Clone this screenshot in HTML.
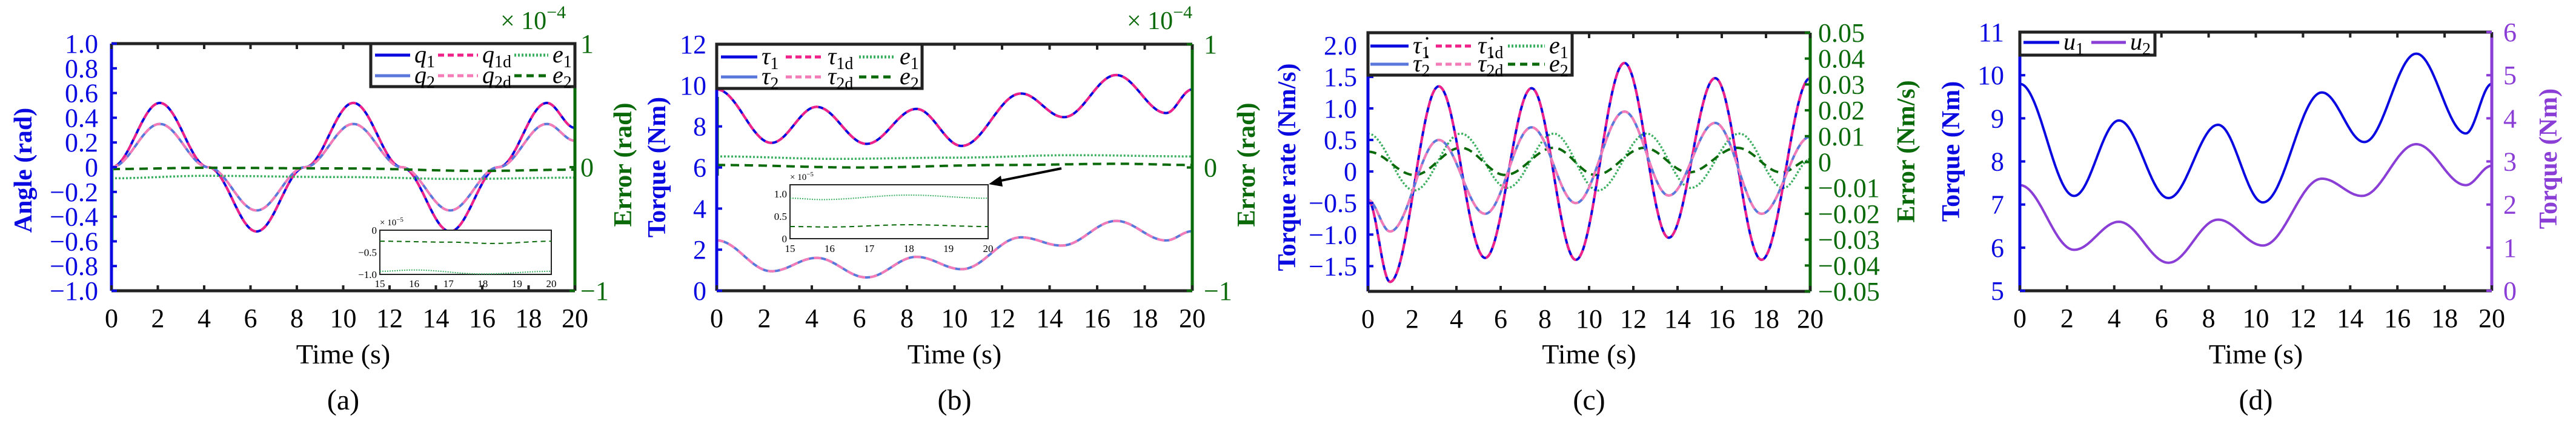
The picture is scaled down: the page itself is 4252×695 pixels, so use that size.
<!DOCTYPE html>
<html><head><meta charset="utf-8"><style>
body{margin:0;background:#fff;}
svg{display:block;}
svg text{font-family:"Liberation Serif","Times New Roman",serif;}
</style></head><body>
<svg id="s" xmlns="http://www.w3.org/2000/svg" width="4252" height="695" viewBox="0 0 4252 695"></svg>
<script>
const S=document.getElementById('s');
let out='';
const BLUE='#0a0ae0',LBLUE='#5a78dc',PINK='#ee2288',LPINK='#f37cb8',GDOT='#3cb060',GDARK='#0a6a0a',PURP='#8a3ed6',FR='#222';
const SER='style="font-family:\'Liberation Serif\',serif"';
function interp(kp,t){
  for(let i=0;i<kp.length-1;i++){const a=kp[i],b=kp[i+1];
    if(t>=a[0]&&t<=b[0]){const s=(t-a[0])/(b[0]-a[0]);return a[1]+(b[1]-a[1])*(1-Math.cos(Math.PI*s))/2;}}
  return kp[kp.length-1][1];
}
function path(fx,fy,kp,t0,t1,style){
  let d='';for(let i=0;i<=400;i++){const t=t0+(t1-t0)*i/400;d+=(i?'L':'M')+fx(t).toFixed(1)+' '+fy(interp(kp,t)).toFixed(1);}
  out+=`<path d="${d}" fill="none" ${style}/>`;
}
function txt(x,y,s,opt){out+=`<text x="${x}" y="${y}" ${SER} ${opt||''}>${s}</text>`;}
const ST={
 q1:`stroke="${BLUE}" stroke-width="4"`,
 q1d:`stroke="${PINK}" stroke-width="4" stroke-dasharray="12 8"`,
 q2:`stroke="${LBLUE}" stroke-width="4"`,
 q2d:`stroke="${LPINK}" stroke-width="4" stroke-dasharray="12 8"`,
 e1:`stroke="${GDOT}" stroke-width="3.5" stroke-dasharray="3 3"`,
 e2:`stroke="${GDARK}" stroke-width="4" stroke-dasharray="14 9"`
};
function panel(P){
  const {x0,x1,y0,y1,lmin,lmax,rmin,rmax}=P;
  const fx=t=>x0+(x1-x0)*t/20, fy=v=>y1-(y1-y0)*(v-lmin)/(lmax-lmin), fr=v=>y1-(y1-y0)*(v-rmin)/(rmax-rmin);
  P.series.forEach(s=>path(fx,s.right?fr:fy,s.kp,0,20,s.st));
  if(P.extra)P.extra(fx,fy,fr);
  out+=`<line x1="${x0}" y1="${y0}" x2="${x1}" y2="${y0}" stroke="${FR}" stroke-width="5"/>`;
  out+=`<line x1="${x0}" y1="${y1}" x2="${x1}" y2="${y1}" stroke="${FR}" stroke-width="5"/>`;
  out+=`<line x1="${x0}" y1="${y0}" x2="${x0}" y2="${y1}" stroke="${P.lc}" stroke-width="5"/>`;
  out+=`<line x1="${x1}" y1="${y0}" x2="${x1}" y2="${y1}" stroke="${P.rc}" stroke-width="5"/>`;
  for(let t=0;t<=20;t+=2){const x=fx(t);
    out+=`<line x1="${x}" y1="${y1}" x2="${x}" y2="${y1-9}" stroke="${FR}" stroke-width="4"/><line x1="${x}" y1="${y0}" x2="${x}" y2="${y0+9}" stroke="${FR}" stroke-width="4"/>`;
    txt(x,y1+60,t,'font-size="44" text-anchor="middle" fill="#000"');}
  P.lt.forEach(([v,l])=>{const y=fy(v);out+=`<line x1="${x0}" y1="${y}" x2="${x0+9}" y2="${y}" stroke="${P.lc}" stroke-width="4"/>`;
    txt(P.llx,y+15,l,`font-size="44" text-anchor="end" fill="${P.lc}"`);});
  P.rt.forEach(([v,l])=>{const y=fr(v);out+=`<line x1="${x1}" y1="${y}" x2="${x1-9}" y2="${y}" stroke="${P.rc}" stroke-width="4"/>`;
    txt(P.rlx,y+15,l,`font-size="44" fill="${P.rc}"`);});
  txt((x0+x1)/2,600,'Time (s)','font-size="46" text-anchor="middle" fill="#000"');
  txt((x0+x1)/2,676,P.cap,'font-size="48" text-anchor="middle" fill="#000"');
  out+=`<text transform="translate(${P.ylx},${P.yly}) rotate(-90)" ${SER} font-size="42" font-weight="bold" text-anchor="middle" fill="${P.lc}">${P.yl}</text>`;
  out+=`<text transform="translate(${P.yrx},${P.yry}) rotate(-90)" ${SER} font-size="42" font-weight="bold" text-anchor="middle" fill="${P.rc}">${P.yr}</text>`;
  if(P.exp)txt(P.exp[0],P.exp[1],'× 10<tspan dy="-18" font-size="30">−4</tspan>',`font-size="42" fill="${P.rc}"`);
  const L=P.leg;
  out+=`<rect x="${L.x}" y="${L.y}" width="${L.w}" height="${L.h}" fill="#fff" stroke="${FR}" stroke-width="5"/>`;
  L.items.forEach(it=>{out+=`<line x1="${it[0]}" y1="${it[2]}" x2="${it[1]}" y2="${it[2]}" ${it[3]} stroke-dasharray="${it[5]||''}"/>`;
    txt(it[1]+7,it[2]+12,it[4],'font-size="40" font-style="italic" fill="#000"');});
}
const sub=(b,s)=>`${b}<tspan font-style="normal" font-size="28" dy="8">${s}</tspan>`;
const Lst={q1:`stroke="${BLUE}" stroke-width="5"`,q1d:`stroke="${PINK}" stroke-width="5"`,q2:`stroke="${LBLUE}" stroke-width="5"`,q2d:`stroke="${LPINK}" stroke-width="5"`,e1:`stroke="${GDOT}" stroke-width="5"`,e2:`stroke="${GDARK}" stroke-width="5"`};
function leg3(r1,r2,c,names){return [
 [c[0],c[1],r1,Lst.q1,names[0]],[c[2],c[3],r1,Lst.q1d,names[1],'10 6'],[c[4],c[5],r1,Lst.e1,names[2],'3 3'],
 [c[0],c[1],r2,Lst.q2,names[3]],[c[2],c[3],r2,Lst.q2d,names[4],'10 6'],[c[4],c[5],r2,Lst.e2,names[5],'12 8']];}
const Tq=8.35;
const sinkp=A=>{const k=[];for(let t=0;t<=20.01;t+=Tq/4){const i=Math.round(t/(Tq/4))%4;k.push([t,[0,A,0,-A][i]]);}k.push([20,A*Math.sin(2*Math.PI*20/Tq)]);return k;};
panel({x0:184,x1:949,y0:72,y1:480,lmin:-1,lmax:1,rmin:-1,rmax:1,lc:BLUE,rc:GDARK,
 series:[
  {kp:sinkp(0.52),st:ST.q1},{kp:sinkp(0.52),st:ST.q1d},
  {kp:sinkp(0.35),st:ST.q2},{kp:sinkp(0.35),st:ST.q2d},
  {kp:[[0,-0.015],[4,-0.005],[10,-0.01],[16,-0.03],[20,-0.02]],st:ST.e2},
  {kp:[[0,-0.09],[4,-0.07],[10,-0.08],[15,-0.095],[20,-0.085]],st:ST.e1}],
 extra:(fx,fy)=>{out+=`<line x1="186" y1="276" x2="186" y2="400" stroke="${GDOT}" stroke-width="3"/>`;
   const X0=627,X1=910,Y0=380,Y1=453;out+=`<rect x="${X0}" y="${Y0}" width="${X1-X0}" height="${Y1-Y0}" fill="#fff" stroke="${FR}" stroke-width="2"/>`;
   const ix=t=>X0+(X1-X0)*(t-15)/5, iy=v=>Y0-(Y1-Y0)*v;
   path(ix,iy,[[15,-0.25],[17,-0.27],[18.3,-0.3],[20,-0.25]],15,20,`stroke="${GDARK}" stroke-width="2" stroke-dasharray="8 6"`);
   path(ix,iy,[[15,-0.93],[16,-0.9],[18,-0.99],[20,-0.93]],15,20,`stroke="${GDOT}" stroke-width="2" stroke-dasharray="2 2"`);
   for(let t=15;t<=20;t++)txt(ix(t),Y1+21,t,'font-size="17" text-anchor="middle"');
   [[0,'0'],[-0.5,'−0.5'],[-1,'−1.0']].forEach(([v,l])=>txt(X0-5,iy(v)+6,l,'font-size="17" text-anchor="end"'));
   txt(X0,Y0-8,'× 10<tspan dy="-6" font-size="11">−5</tspan>','font-size="15"');},
 lt:[[1,'1.0'],[0.8,'0.8'],[0.6,'0.6'],[0.4,'0.4'],[0.2,'0.2'],[0,'0'],[-0.2,'−0.2'],[-0.4,'−0.4'],[-0.6,'−0.6'],[-0.8,'−0.8'],[-1,'−1.0']],
 rt:[[1,'1'],[0,'0'],[-1,'−1']],llx:162,rlx:958,
 yl:'Angle (rad)',ylx:52,yly:281,yr:'Error (rad)',yrx:1042,yry:272,exp:[826,48],cap:'(a)',
 leg:{x:612,y:72,w:337,h:71,items:leg3(91,125,[619,677,723,789,849,905],[sub('q','1'),sub('q','1d'),sub('e','1'),sub('q','2'),sub('q','2d'),sub('e','2')])}
});
const U1=[[0,9.8],[2.3,7.2],[4.2,8.95],[6.3,7.15],[8.4,8.85],[10.3,7.05],[12.8,9.6],[14.6,8.45],[16.8,10.5],[18.9,8.65],[20,9.8]];
const U2=[[0,2.45],[2.3,0.95],[4.2,1.6],[6.3,0.65],[8.4,1.65],[10.3,1.05],[12.8,2.6],[14.5,2.2],[16.8,3.4],[18.9,2.45],[20,2.9]];
panel({x0:1183,x1:1968,y0:73,y1:480,lmin:0,lmax:12,rmin:-1,rmax:1,lc:BLUE,rc:GDARK,
 series:[{kp:U1,st:ST.q1},{kp:U1,st:ST.q1d},{kp:U2,st:ST.q2},{kp:U2,st:ST.q2d},
  {kp:[[0,0.09],[5,0.07],[10,0.08],[15,0.1],[20,0.09]],st:ST.e1,right:1},
  {kp:[[0,0.02],[6,0.0],[12,0.02],[17,0.03],[20,0.02]],st:ST.e2,right:1}],
 extra:()=>{out+=`<line x1="1185" y1="160" x2="1185" y2="290" stroke="${GDARK}" stroke-width="3"/>`;
   out+=`<line x1="1752" y1="278" x2="1648" y2="299" stroke="#000" stroke-width="4"/><polygon points="1632,304 1652,290 1655,308" fill="#000"/>`;
   const X0=1304,X1=1631,Y0=305,Y1=394;out+=`<rect x="${X0}" y="${Y0}" width="${X1-X0}" height="${Y1-Y0}" fill="#fff" stroke="${FR}" stroke-width="2"/>`;
   const ix=t=>X0+(X1-X0)*(t-15)/5, iy=v=>Y1-(Y1-Y0)*v/1.2;
   path(ix,iy,[[15,0.9],[15.8,0.87],[18,0.97],[20,0.9]],15,20,`stroke="${GDOT}" stroke-width="2" stroke-dasharray="2 2"`);
   path(ix,iy,[[15,0.27],[16,0.26],[18,0.31],[20,0.27]],15,20,`stroke="${GDARK}" stroke-width="2" stroke-dasharray="8 6"`);
   for(let t=15;t<=20;t++)txt(ix(t),Y1+22,t,'font-size="17" text-anchor="middle"');
   [[0,'0'],[0.5,'0.5'],[1,'1.0']].forEach(([v,l])=>txt(X0-5,iy(v)+6,l,'font-size="17" text-anchor="end"'));
   txt(X0,Y0-8,'× 10<tspan dy="-6" font-size="11">−5</tspan>','font-size="15"');},
 lt:[[0,'0'],[2,'2'],[4,'4'],[6,'6'],[8,'8'],[10,'10'],[12,'12']],rt:[[1,'1'],[0,'0'],[-1,'−1']],llx:1166,rlx:1987,
 yl:'Torque (Nm)',ylx:1098,yly:276,yr:'Error (rad)',yrx:2071,yry:272,exp:[1860,48],cap:'(b)',
 leg:{x:1183,y:73,w:339,h:73,items:leg3(94,127,[1190,1250,1297,1359,1418,1478],[sub('τ','1'),sub('τ','1d'),sub('e','1'),sub('τ','2'),sub('τ','2d'),sub('e','2')])}
});
const T1=[[0,-0.45],[1,-1.75],[3.2,1.35],[5.3,-1.37],[7.4,1.32],[9.4,-1.4],[11.6,1.72],[13.6,-1.05],[15.7,1.48],[17.8,-1.4],[20,1.48]];
const T2=[[0,-0.45],[1,-0.95],[3.2,0.5],[5.3,-0.67],[7.4,0.7],[9.4,-0.5],[11.6,0.95],[13.6,-0.38],[15.7,0.77],[17.8,-0.67],[20,0.55]];
const E1=[[0,0.011],[2.1,-0.011],[4.2,0.011],[6.3,-0.01],[8.4,0.011],[10.4,-0.011],[12.6,0.011],[14.6,-0.01],[16.8,0.011],[18.8,-0.01],[20,0.001]];
const E2=[[0,0.004],[2.1,-0.005],[4.2,0.0055],[6.2,-0.005],[8.4,0.0055],[10.3,-0.005],[12.5,0.0055],[14.5,-0.004],[16.7,0.0055],[18.7,-0.004],[20,0.001]];
panel({x0:2258,x1:2988,y0:54,y1:481,lmin:-1.9,lmax:2.2,rmin:-0.05,rmax:0.05,lc:BLUE,rc:GDARK,
 series:[{kp:E1,st:ST.e1,right:1},{kp:E2,st:ST.e2,right:1},{kp:T1,st:ST.q1},{kp:T1,st:ST.q1d},{kp:T2,st:ST.q2},{kp:T2,st:ST.q2d}],
 lt:[[2,'2.0'],[1.5,'1.5'],[1,'1.0'],[0.5,'0.5'],[0,'0'],[-0.5,'−0.5'],[-1,'−1.0'],[-1.5,'−1.5']],
 rt:[[0.05,'0.05'],[0.04,'0.04'],[0.03,'0.03'],[0.02,'0.02'],[0.01,'0.01'],[0,'0'],[-0.01,'−0.01'],[-0.02,'−0.02'],[-0.03,'−0.03'],[-0.04,'−0.04'],[-0.05,'−0.05']],
 llx:2240,rlx:3001,yl:'Torque rate (Nm/s)',ylx:2138,yly:276,yr:'Error (Nm/s)',yrx:3160,yry:250,cap:'(c)',
 leg:{x:2258,y:54,w:337,h:70,items:leg3(76,106,[2262,2325,2370,2432,2489,2550],[sub('τ̇','1'),sub('τ̇','1d'),sub('e','1'),sub('τ̇','2'),sub('τ̇','2d'),sub('e','2')])}
});
panel({x0:3334,x1:4113,y0:53,y1:480,lmin:5,lmax:11,rmin:0,rmax:6,lc:BLUE,rc:PURP,
 series:[{kp:U1,st:`stroke="${BLUE}" stroke-width="4"`},{kp:U2,st:`stroke="${PURP}" stroke-width="4"`,right:1}],
 lt:[[5,'5'],[6,'6'],[7,'7'],[8,'8'],[9,'9'],[10,'10'],[11,'11']],rt:[[0,'0'],[1,'1'],[2,'2'],[3,'3'],[4,'4'],[5,'5'],[6,'6']],
 llx:3308,rlx:4132,yl:'Torque (Nm)',ylx:3234,yly:250,yr:'Torque (Nm)',yrx:4220,yry:262,cap:'(d)',
 leg:{x:3334,y:53,w:223,h:38,items:[[3340,3399,70,`stroke="${BLUE}" stroke-width="5"`,sub('u','1')],[3452,3509,70,`stroke="${PURP}" stroke-width="5"`,sub('u','2')]]}
});
S.innerHTML=out;
</script>
</body></html>
